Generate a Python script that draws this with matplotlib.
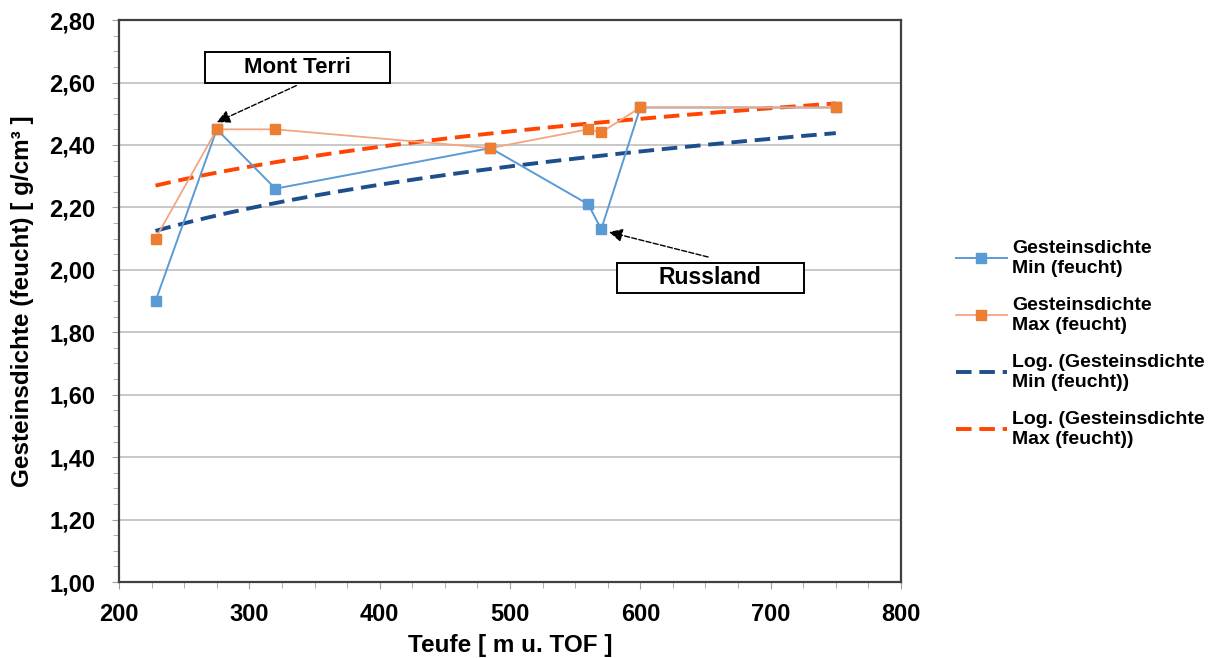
import numpy as np
import matplotlib
matplotlib.use("Agg")
import matplotlib.pyplot as plt
from matplotlib.patches import Rectangle
from matplotlib.ticker import MultipleLocator, FuncFormatter

plt.rcParams['font.family'] = ['Liberation Sans', 'DejaVu Sans']

# depth [m u. TOF]
teufe = [228, 275, 320, 485, 560, 570, 600, 750]
dichte_min = [1.90, 2.45, 2.26, 2.39, 2.21, 2.13, 2.52, 2.52]
dichte_max = [2.10, 2.45, 2.45, 2.39, 2.45, 2.44, 2.52, 2.52]

labels = ["Gesteinsdichte\nMin (feucht)", "Gesteinsdichte\nMax (feucht)",
          "Log. (Gesteinsdichte\nMin (feucht))", "Log. (Gesteinsdichte\nMax (feucht))"]

fig = plt.figure(figsize=(12.11, 6.58), dpi=100)
ax = fig.add_axes([0.0983, 0.1155, 0.6457, 0.854])

x = np.array(teufe, dtype=float)
ax.plot(x, dichte_min, color='#5b9bd5', lw=1.4, marker='s', ms=6.5,
        mec='#5b9bd5', label=labels[0], zorder=4)
ax.plot(x, dichte_max, color='#f4a582', lw=1.3, marker='s', ms=6.5,
        mfc='#ed7d31', mec='#ed7d31', label=labels[1], zorder=5)

# logarithmic trend lines (like excel)
xf = np.linspace(x.min(), x.max(), 200)
b1, a1 = np.polyfit(np.log(x), dichte_min, 1)
b2, a2 = np.polyfit(np.log(x), dichte_max, 1)
ax.plot(xf, a1 + b1 * np.log(xf), color='#1f4e8c', lw=2.8, ls=(0, (4, 2)),
        label=labels[2], zorder=3)
ax.plot(xf, a2 + b2 * np.log(xf), color='#ff4500', lw=2.8, ls=(0, (4, 2)),
        label=labels[3], zorder=3)

ax.set_xlim(200, 800)
ax.set_ylim(1.0, 2.8)
ax.xaxis.set_major_locator(MultipleLocator(100))
ax.xaxis.set_minor_locator(MultipleLocator(25))
ax.yaxis.set_major_locator(MultipleLocator(0.2))
ax.yaxis.set_minor_locator(MultipleLocator(0.05))
ax.yaxis.set_major_formatter(FuncFormatter(lambda v, p: f"{v:.2f}".replace('.', ',')))
ax.grid(axis='y', which='major', color='#bfbfbf', lw=1.2, zorder=0)
ax.set_axisbelow(True)

for s in ax.spines.values():
    s.set_color('#404040')
    s.set_linewidth(1.6)
ax.tick_params(axis='both', which='major', direction='out', length=5,
               color='#a0a0a0', labelsize=17)
ax.tick_params(axis='y', which='major', pad=12)
ax.tick_params(axis='x', which='major', pad=10)
ax.tick_params(axis='both', which='minor', direction='out', length=4, color='#a0a0a0')
for t in ax.get_xticklabels() + ax.get_yticklabels():
    t.set_fontweight('bold')

ax.set_xlabel("Teufe [ m u. TOF ]", fontsize=17.5, fontweight='bold', labelpad=6)
ax.set_ylabel("Gesteinsdichte (feucht) [ g/cm³ ]", fontsize=17.5, fontweight='bold', labelpad=11)

# callout boxes with arrows
arrow = dict(arrowstyle='-|>', color='black', lw=1, ls='--', mutation_scale=20,
             shrinkA=0, shrinkB=0)
ax.add_patch(Rectangle((266, 2.598), 142, 0.10, fc='white', ec='black', lw=1.4,
                       zorder=6, clip_on=False))
ax.text(337, 2.648, "Mont Terri", ha='center', va='center', fontsize=16,
        fontweight='bold', zorder=7)
ax.annotate("", xy=(275, 2.473), xytext=(336, 2.59), arrowprops=arrow, zorder=6)

ax.add_patch(Rectangle((582, 1.926), 143.5, 0.096, fc='white', ec='black', lw=1.4,
                       zorder=6, clip_on=False))
ax.text(653.5, 1.974, "Russland", ha='center', va='center', fontsize=16.5,
        fontweight='bold', zorder=7)
ax.annotate("", xy=(576, 2.121), xytext=(652, 2.041), arrowprops=arrow, zorder=6)

leg = fig.legend(loc='center left', bbox_to_anchor=(0.775, 0.477), frameon=False,
                 prop={'size': 14, 'weight': 'bold'}, handlelength=2.6,
                 labelspacing=1.05, handletextpad=0.3)

fig.savefig("out.png", dpi=100)
